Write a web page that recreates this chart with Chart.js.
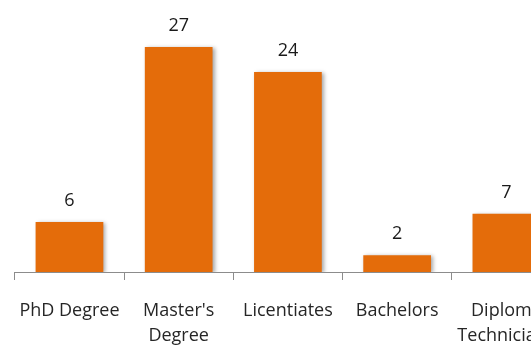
<!DOCTYPE html>
<html>
<head>
<meta charset="utf-8">
<script src="https://cdn.jsdelivr.net/npm/chart.js@4/dist/chart.umd.min.js"></script>
<style>
  html, body { margin: 0; padding: 0; background: #ffffff; overflow: hidden; }
  #wrap { position: absolute; left: 0; top: 0; width: 575px; height: 345px; }
</style>
</head>
<body>
<div id="wrap"><canvas id="c" width="575" height="345"></canvas></div>
<script>
// Qualification levels and counts
const categories = [["PhD Degree"], ["Master's", "Degree"], ["Licentiates"], ["Bachelors"], ["Diploma", "Technicians"]];
const counts = [6, 27, 24, 2, 7];

const barColor = '#E46C0A';
const fontFamily = '"Open Sans", Lato, sans-serif';

// Soft drop shadow under the bars
const barShadow = {
  id: 'barShadow',
  beforeDatasetsDraw(chart) {
    const ctx = chart.ctx;
    ctx.save();
    ctx.shadowColor = 'rgba(0,0,0,0.35)';
    ctx.shadowBlur = 4;
    ctx.shadowOffsetX = 2;
    ctx.shadowOffsetY = 1;
  },
  afterDatasetsDraw(chart) {
    chart.ctx.restore();
  }
};

// Value printed above each bar
const valueLabels = {
  id: 'valueLabels',
  afterDatasetsDraw(chart) {
    const ctx = chart.ctx;
    const meta = chart.getDatasetMeta(0);
    ctx.save();
    ctx.font = '18px ' + fontFamily;
    ctx.fillStyle = '#1a1a1a';
    ctx.textAlign = 'center';
    ctx.textBaseline = 'middle';
    meta.data.forEach((bar, i) => {
      ctx.fillText(String(chart.data.datasets[0].data[i]), bar.x, bar.y - 21);
    });
    ctx.restore();
  }
};

new Chart(document.getElementById('c'), {
  type: 'bar',
  data: {
    labels: categories,
    datasets: [{
      data: counts,
      backgroundColor: barColor,
      borderWidth: 0,
      categoryPercentage: 1,
      barPercentage: 0.62
    }]
  },
  options: {
    responsive: false,
    animation: false,
    layout: { padding: { left: 14, right: 14, top: 22, bottom: 0 } },
    plugins: {
      legend: { display: false },
      tooltip: { enabled: false },
      title: { display: false }
    },
    scales: {
      x: {
        offset: true,
        grid: {
          offset: true,
          drawOnChartArea: false,
          drawTicks: true,
          tickLength: 8,
          color: '#8c8c8c',
          lineWidth: 1
        },
        border: { display: true, color: '#8c8c8c', width: 1 },
        ticks: {
          autoSkip: false,
          maxRotation: 0,
          minRotation: 0,
          padding: 18,
          color: '#262626',
          font: { family: fontFamily, size: 18, lineHeight: 1.4 }
        },
        afterFit(scale) { scale.height = 73; }
      },
      y: {
        display: false,
        min: 0,
        max: 30
      }
    }
  },
  plugins: [barShadow, valueLabels]
});
</script>
</body>
</html>
